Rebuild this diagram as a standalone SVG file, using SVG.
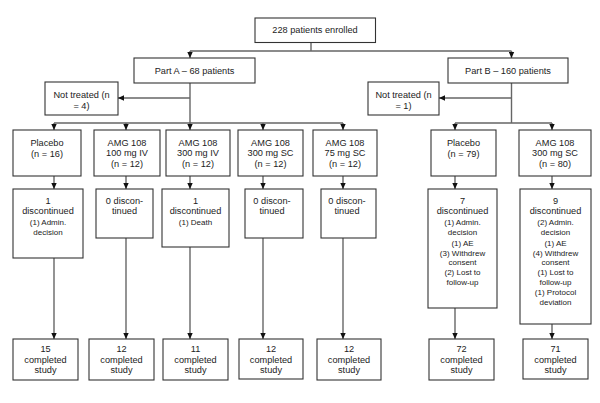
<svg xmlns="http://www.w3.org/2000/svg" width="600" height="403" viewBox="0 0 600 403">
<defs>
<marker id="ah" viewBox="0 0 6 6" refX="6" refY="3" markerWidth="6" markerHeight="6" markerUnits="userSpaceOnUse" orient="auto">
<path d="M0,0.3 L6,3 L0,5.7 z" fill="#111"/>
</marker>
<style>
.box{fill:#fff;stroke:#333;stroke-width:1.1}
.t{font-family:"Liberation Sans",Arial,sans-serif;font-size:9.2px;fill:#222;text-anchor:middle}
.s{font-family:"Liberation Sans",Arial,sans-serif;font-size:8px;fill:#222;text-anchor:middle}
.c{fill:none;stroke:#666;stroke-width:1.4}
.a{fill:none;stroke:#666;stroke-width:1.4;marker-end:url(#ah)}
</style>
</defs>
<rect width="600" height="403" fill="#fff"/>
<g id="connectors">
<path class="c" d="M311,42.5 V51 M190,51 H511.5"/>
<path class="a" d="M190,51 V58"/>
<path class="a" d="M511.5,51 V58"/>
<path class="a" d="M190,83 V130"/>
<path class="a" d="M190,98 H118"/>
<path class="c" d="M54,123 H343"/>
<path class="a" d="M54,123 V130"/>
<path class="a" d="M126,123 V130"/>
<path class="a" d="M263,123 V130"/>
<path class="a" d="M343,123 V130"/>
<path class="c" d="M511.5,83 V123 M455,123 H552"/>
<path class="a" d="M511.5,98 H439"/>
<path class="a" d="M455,123 V130"/>
<path class="a" d="M552,123 V130"/>
<path class="a" d="M54,176 V189"/>
<path class="a" d="M126,176 V189"/>
<path class="a" d="M190,176 V189"/>
<path class="a" d="M263,176 V189"/>
<path class="a" d="M343,176 V189"/>
<path class="a" d="M455,176 V189"/>
<path class="a" d="M552,176 V189"/>
<path class="a" d="M54,258 V339"/>
<path class="a" d="M126,238 V339"/>
<path class="a" d="M190,247 V339"/>
<path class="a" d="M263,238 V339"/>
<path class="a" d="M343,238 V339"/>
<path class="a" d="M455,308 V339"/>
<path class="a" d="M552,324 V339"/>
</g>
<g id="enrolled"><rect class="box" x="255" y="18" width="120.5" height="24.5"/><text class="t" x="315" y="33">228 patients enrolled</text></g>
<g id="partA"><rect class="box" x="134" y="58" width="121" height="25"/><text class="t" x="194.5" y="74">Part A – 68 patients</text></g>
<g id="partB"><rect class="box" x="448" y="58" width="120" height="25"/><text class="t" x="508" y="74">Part B – 160 patients</text></g>
<g id="notTreatedA"><rect class="box" x="45" y="82" width="73" height="33"/><text class="t" x="81.5" y="97.5">Not treated (n</text><text class="t" x="81.5" y="109.2">= 4)</text></g>
<g id="notTreatedB"><rect class="box" x="368" y="82" width="71" height="33"/><text class="t" x="403.5" y="97.5">Not treated (n</text><text class="t" x="403.5" y="109.2">= 1)</text></g>

<g id="armA1"><rect class="box" x="13" y="130" width="68" height="46"/><text class="t" x="47" y="145.5">Placebo</text><text class="t" x="47" y="157">(n = 16)</text></g>
<g id="armA2"><rect class="box" x="94" y="130" width="66" height="46"/><text class="t" x="127" y="145.5">AMG 108</text><text class="t" x="127" y="156">100 mg IV</text><text class="t" x="127" y="166.5">(n = 12)</text></g>
<g id="armA3"><rect class="box" x="166" y="130" width="64" height="46"/><text class="t" x="198" y="145.5">AMG 108</text><text class="t" x="198" y="156">300 mg IV</text><text class="t" x="198" y="166.5">(n = 12)</text></g>
<g id="armA4"><rect class="box" x="238" y="130" width="65" height="46"/><text class="t" x="270.5" y="145.5">AMG 108</text><text class="t" x="270.5" y="156">300 mg SC</text><text class="t" x="270.5" y="166.5">(n = 12)</text></g>
<g id="armA5"><rect class="box" x="313" y="130" width="64" height="46"/><text class="t" x="345" y="145.5">AMG 108</text><text class="t" x="345" y="156">75 mg SC</text><text class="t" x="345" y="166.5">(n = 12)</text></g>
<g id="armB1"><rect class="box" x="431" y="130" width="65" height="46"/><text class="t" x="463.5" y="145.5">Placebo</text><text class="t" x="463.5" y="157">(n = 79)</text></g>
<g id="armB2"><rect class="box" x="519" y="130" width="72" height="46"/><text class="t" x="555" y="145.5">AMG 108</text><text class="t" x="555" y="156">300 mg SC</text><text class="t" x="555" y="166.5">(n = 80)</text></g>

<g id="discA1"><rect class="box" x="13" y="189" width="70" height="69"/><text class="t" x="48" y="203.5">1</text><text class="t" x="48" y="214">discontinued</text><text class="s" x="48" y="225">(1) Admin.</text><text class="s" x="48" y="234.5">decision</text></g>
<g id="discA2"><rect class="box" x="96" y="189" width="57" height="49"/><text class="t" x="124.5" y="203.5">0 discon-</text><text class="t" x="124.5" y="214">tinued</text></g>
<g id="discA3"><rect class="box" x="162" y="189" width="67" height="58"/><text class="t" x="195.5" y="203.5">1</text><text class="t" x="195.5" y="214">discontinued</text><text class="s" x="195.5" y="225">(1) Death</text></g>
<g id="discA4"><rect class="box" x="245" y="189" width="58" height="49"/><text class="t" x="272" y="203.5">0 discon-</text><text class="t" x="272" y="214">tinued</text></g>
<g id="discA5"><rect class="box" x="321" y="189" width="55" height="49"/><text class="t" x="347" y="203.5">0 discon-</text><text class="t" x="347" y="214">tinued</text></g>
<g id="discB1"><rect class="box" x="428" y="189" width="69" height="119"/><text class="t" x="462.5" y="203.5">7</text><text class="t" x="462.5" y="214">discontinued</text><text class="s" x="462.5" y="224.5">(1) Admin.</text><text class="s" x="462.5" y="234.5">decision</text><text class="s" x="462.5" y="246">(1) AE</text><text class="s" x="462.5" y="256">(3) Withdrew</text><text class="s" x="462.5" y="265">consent</text><text class="s" x="462.5" y="275">(2) Lost to</text><text class="s" x="462.5" y="284.5">follow-up</text></g>
<g id="discB2"><rect class="box" x="520" y="189" width="71" height="135"/><text class="t" x="555.5" y="203.5">9</text><text class="t" x="555.5" y="214">discontinued</text><text class="s" x="555.5" y="224.5">(2) Admin.</text><text class="s" x="555.5" y="234.5">decision</text><text class="s" x="555.5" y="246">(1) AE</text><text class="s" x="555.5" y="256">(4) Withdrew</text><text class="s" x="555.5" y="265">consent</text><text class="s" x="555.5" y="275">(1) Lost to</text><text class="s" x="555.5" y="284.5">follow-up</text><text class="s" x="555.5" y="295">(1) Protocol</text><text class="s" x="555.5" y="304.5">deviation</text></g>

<g id="compA1"><rect class="box" x="13" y="339" width="65" height="41"/><text class="t" x="45.5" y="351.5">15</text><text class="t" x="45.5" y="362.5">completed</text><text class="t" x="45.5" y="373">study</text></g>
<g id="compA2"><rect class="box" x="89" y="339" width="65" height="41"/><text class="t" x="121.5" y="351.5">12</text><text class="t" x="121.5" y="362.5">completed</text><text class="t" x="121.5" y="373">study</text></g>
<g id="compA3"><rect class="box" x="163" y="339" width="65" height="41"/><text class="t" x="195.5" y="351.5">11</text><text class="t" x="195.5" y="362.5">completed</text><text class="t" x="195.5" y="373">study</text></g>
<g id="compA4"><rect class="box" x="239" y="339" width="64" height="40"/><text class="t" x="271" y="351.5">12</text><text class="t" x="271" y="362.5">completed</text><text class="t" x="271" y="373">study</text></g>
<g id="compA5"><rect class="box" x="317" y="339" width="64" height="41"/><text class="t" x="349" y="351.5">12</text><text class="t" x="349" y="362.5">completed</text><text class="t" x="349" y="373">study</text></g>
<g id="compB1"><rect class="box" x="429" y="339" width="65" height="41"/><text class="t" x="461.5" y="351.5">72</text><text class="t" x="461.5" y="362.5">completed</text><text class="t" x="461.5" y="373">study</text></g>
<g id="compB2"><rect class="box" x="523" y="339" width="65" height="40"/><text class="t" x="555.5" y="351.5">71</text><text class="t" x="555.5" y="362.5">completed</text><text class="t" x="555.5" y="373">study</text></g>
</svg>
